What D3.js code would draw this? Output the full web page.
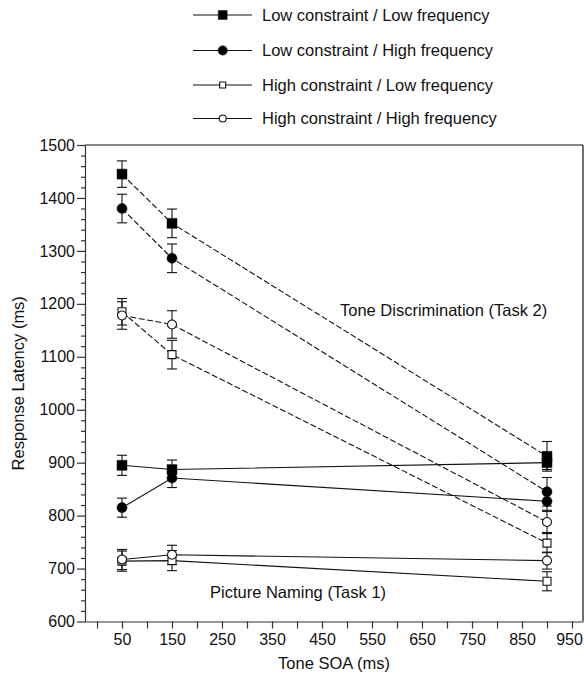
<!DOCTYPE html>
<html>
<head>
<meta charset="utf-8">
<script src="https://cdn.jsdelivr.net/npm/d3@7/dist/d3.min.js"></script>
<style>
  html, body { margin: 0; padding: 0; background: #fff; }
  svg { display: block; }
  text { font-family: "Liberation Sans", Arial, Helvetica, sans-serif; fill: #111; }
</style>
</head>
<body>
<svg id="chart" width="584" height="676"></svg>
<script>
// ---------------- DATA ----------------
const soa = [50, 150, 900];
const seriesNames = [
  "Low constraint / Low frequency",
  "Low constraint / High frequency",
  "High constraint / Low frequency",
  "High constraint / High frequency"
];
const markerTypes = ["filledSquare", "filledCircle", "openSquare", "openCircle"];

// Tone Discrimination (Task 2) – dashed
const task2LL = [1445, 1352, 912];
const task2LH = [1380, 1286, 845];
const task2HL = [1185, 1104, 748];
const task2HH = [1178, 1161, 788];
const task2LLse = [25, 27, 28];
const task2LHse = [27, 27, 27];
const task2HLse = [25, 27, 18];
const task2HHse = [26, 26, 20];

// Picture Naming (Task 1) – solid
const task1LL = [895, 887, 900];
const task1LH = [815, 871, 827];
const task1HL = [714, 715, 676];
const task1HH = [717, 726, 715];
const task1LLse = [19, 18, 13];
const task1LHse = [18, 18, 17];
const task1HLse = [19, 19, 18];
const task1HHse = [19, 18, 16];

const xMajorTicks = [50, 150, 250, 350, 450, 550, 650, 750, 850, 950];
const xAllTicks = d3.range(0, 951, 50);
const yMajorTicks = d3.range(600, 1501, 100);
const yMinorTicks = d3.range(600, 1501, 20);

// ---------------- CHART ----------------
const svg = d3.select("#chart");
const pLeft = 85, pRight = 583, pTop = 145, pBottom = 621.5;

const x = d3.scaleLinear().domain([-24, 972]).range([pLeft, pRight]);
const y = d3.scaleLinear().domain([600, 1500]).range([pBottom, pTop]);

const axisColor = "#333";
const fontSize = "16.5px";
const tickFont = "16px";

// frame (top & right)
svg.append("line").attr("x1", pLeft).attr("x2", pRight).attr("y1", pTop).attr("y2", pTop)
  .attr("stroke", "#111").attr("stroke-width", 1.2);
svg.append("line").attr("x1", pRight).attr("x2", pRight).attr("y1", pTop).attr("y2", pBottom)
  .attr("stroke", "#111").attr("stroke-width", 1.2);

// x axis
const gx = svg.append("g").attr("transform", `translate(0,${pBottom})`)
  .call(d3.axisBottom(x).tickValues(xAllTicks).tickSize(7).tickSizeOuter(0).tickPadding(5)
    .tickFormat(d => xMajorTicks.includes(d) ? d : ""));
gx.selectAll("text").style("font-size", tickFont).attr("fill", "#111")
  .attr("dx", d => d === 950 ? -3 : 0);

// y minor ticks
svg.append("g").attr("transform", `translate(${pLeft},0)`)
  .call(d3.axisLeft(y).tickValues(yMinorTicks.filter(v => !yMajorTicks.includes(v)))
    .tickSize(4).tickSizeOuter(0).tickFormat(""))
  .call(g => g.select(".domain").remove());
// y major
const gy = svg.append("g").attr("transform", `translate(${pLeft},0)`)
  .call(d3.axisLeft(y).tickValues(yMajorTicks).tickSize(8).tickSizeOuter(0).tickPadding(2)
    .tickFormat(d3.format("d")));
gy.selectAll("text").style("font-size", tickFont).attr("fill", "#111");

svg.selectAll(".domain, .tick line").attr("stroke", axisColor).attr("stroke-width", 1.2);

// axis titles
svg.append("text").attr("x", (pLeft + pRight) / 2).attr("y", 669)
  .attr("text-anchor", "middle").style("font-size", fontSize).text("Tone SOA (ms)");
svg.append("text")
  .attr("transform", `translate(24,${(pTop + pBottom) / 2}) rotate(-90)`)
  .attr("text-anchor", "middle").style("font-size", fontSize).text("Response Latency (ms)");

// annotations
svg.append("text").attr("x", 340).attr("y", 316).style("font-size", fontSize)
  .text("Tone Discrimination (Task 2)");
svg.append("text").attr("x", 210).attr("y", 598).style("font-size", fontSize)
  .text("Picture Naming (Task 1)");

// build series
const series = [
  { task: 2, vals: task2LL, se: task2LLse, m: 0 },
  { task: 2, vals: task2LH, se: task2LHse, m: 1 },
  { task: 2, vals: task2HL, se: task2HLse, m: 2 },
  { task: 2, vals: task2HH, se: task2HHse, m: 3 },
  { task: 1, vals: task1LL, se: task1LLse, m: 0 },
  { task: 1, vals: task1LH, se: task1LHse, m: 1 },
  { task: 1, vals: task1HL, se: task1HLse, m: 2 },
  { task: 1, vals: task1HH, se: task1HHse, m: 3 }
].map(s => ({ ...s, pts: soa.map((t, i) => ({ t, v: s.vals[i], se: s.se[i], m: s.m })) }));

const line = d3.line().x(d => x(d.t)).y(d => y(d.v));

// lines
svg.append("g").selectAll("path").data(series).join("path")
  .attr("d", s => line(s.pts))
  .attr("fill", "none").attr("stroke", "#111").attr("stroke-width", 1.1)
  .attr("stroke-dasharray", s => s.task === 2 ? "6,2.5" : null);

// error bars
const allPts = series.flatMap(s => s.pts);
const eb = svg.append("g").attr("stroke", "#111").attr("stroke-width", 1.1);
eb.selectAll("line.v").data(allPts).join("line").attr("class", "v")
  .attr("x1", d => x(d.t)).attr("x2", d => x(d.t))
  .attr("y1", d => y(d.v - d.se)).attr("y2", d => y(d.v + d.se));
eb.selectAll("line.ct").data(allPts).join("line").attr("class", "ct")
  .attr("x1", d => x(d.t) - 5).attr("x2", d => x(d.t) + 5)
  .attr("y1", d => y(d.v + d.se)).attr("y2", d => y(d.v + d.se));
eb.selectAll("line.cb").data(allPts).join("line").attr("class", "cb")
  .attr("x1", d => x(d.t) - 5).attr("x2", d => x(d.t) + 5)
  .attr("y1", d => y(d.v - d.se)).attr("y2", d => y(d.v - d.se));

// markers
function markerPath(type, scale) {
  const sizes = { filledSquare: 100, filledCircle: 80, openSquare: 64, openCircle: 64 };
  const sym = type.endsWith("Square") ? d3.symbolSquare : d3.symbolCircle;
  return d3.symbol().type(sym).size(sizes[type] * scale)();
}
function styleMarker(sel, type) {
  const filled = type.startsWith("filled");
  sel.attr("fill", filled ? "#000" : "#fff").attr("stroke", "#111")
    .attr("stroke-width", filled ? 0.5 : 1.1);
}
svg.append("g").selectAll("path").data(allPts).join("path")
  .attr("transform", d => `translate(${x(d.t)},${y(d.v)})`)
  .attr("d", d => markerPath(markerTypes[d.m], 1))
  .each(function (d) { styleMarker(d3.select(this), markerTypes[d.m]); });

// legend
const legendY = [15, 50.5, 85, 118.5];
const legendScale = [0.8, 0.85, 0.55, 0.6];
const lg = svg.append("g");
seriesNames.forEach((name, i) => {
  const g = lg.append("g").attr("transform", `translate(0,${legendY[i]})`);
  g.append("line").attr("x1", 193).attr("x2", 252).attr("y1", 0).attr("y2", 0)
    .attr("stroke", "#111").attr("stroke-width", 1.1);
  g.append("path").attr("transform", "translate(222.7,0)")
    .attr("d", markerPath(markerTypes[i], legendScale[i]))
    .call(sel => styleMarker(sel, markerTypes[i]));
  g.append("text").attr("x", 262).attr("y", 0).attr("dy", "0.36em")
    .style("font-size", fontSize).text(name);
});
</script>
</body>
</html>
